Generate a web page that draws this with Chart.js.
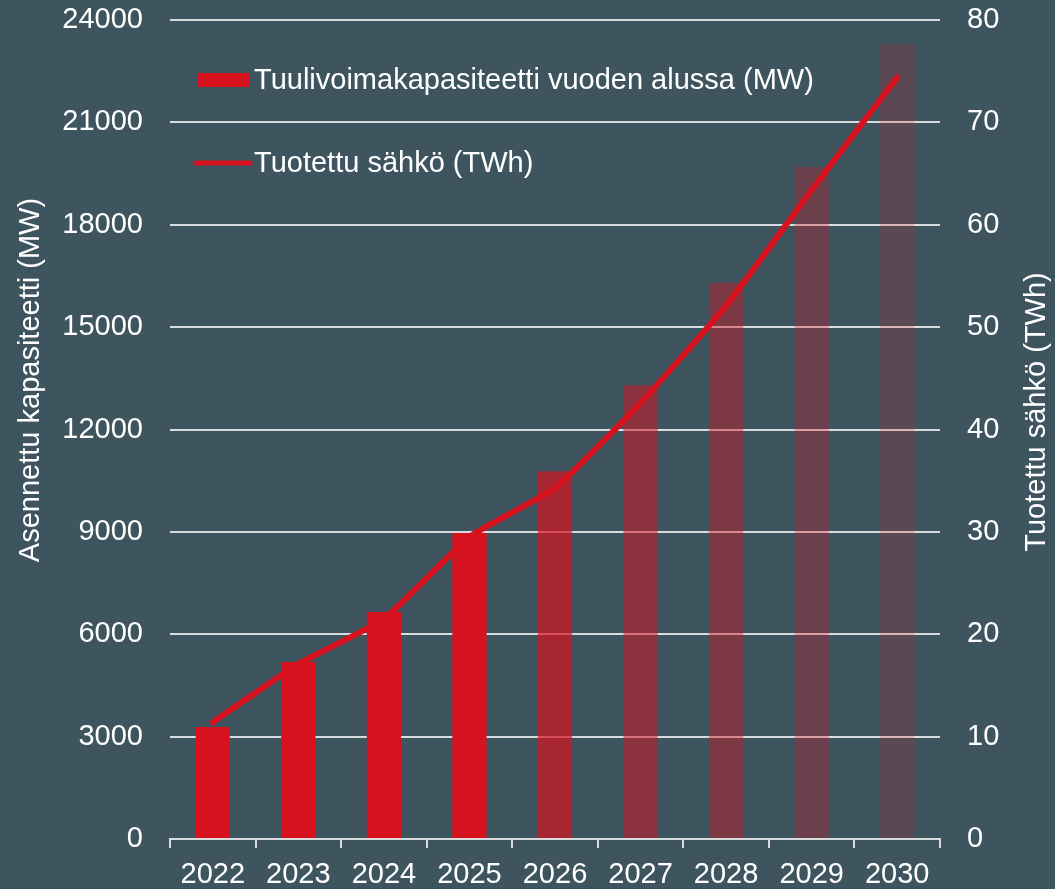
<!DOCTYPE html>
<html>
<head>
<meta charset="utf-8">
<script src="https://cdn.jsdelivr.net/npm/chart.js@4/dist/chart.umd.min.js"></script>
<style>
  html, body { margin: 0; padding: 0; background: #3e5560; }
  #wrap { width: 1055px; height: 889px; position: relative; }
</style>
</head>
<body>
<div id="wrap"><canvas id="chart"></canvas></div>
<script>
// data
const years = ['2022', '2023', '2024', '2025', '2026', '2027', '2028', '2029', '2030'];
const capacityMW = [3280, 5190, 6650, 8970, 10780, 13300, 16300, 19690, 23300];
const productionTWh = [11.4, 17.1, 21.5, 29.5, 34.3, 42.6, 52.1, 63.4, 74.4];
const leftTicks = [0, 3000, 6000, 9000, 12000, 15000, 18000, 21000, 24000];
const rightTicks = [0, 10, 20, 30, 40, 50, 60, 70, 80];

const barLabel = 'Tuulivoimakapasiteetti vuoden alussa (MW)';
const lineLabel = 'Tuotettu sähkö (TWh)';
const leftTitle = 'Asennettu kapasiteetti (MW)';
const rightTitle = 'Tuotettu sähkö (TWh)';

// styling
const red = '#d5121e';
const barAlpha = [1, 1, 1, 1, 0.7, 0.52, 0.42, 0.3, 0.2];
const barColors = barAlpha.map(a => 'rgba(213,18,30,' + a + ')');
const FONT = "'Liberation Sans', Arial, sans-serif";
const textColor = '#ffffff';
const gridColor = '#d9dcdf';

Chart.defaults.font.family = FONT;
Chart.defaults.font.size = 29;
Chart.defaults.color = textColor;

// legend inside the plot (top left) and the two axis titles, both reading upwards
const extraText = {
    id: 'extraText',
    afterDraw(chart) {
        const ctx = chart.ctx;
        const a = chart.chartArea;
        ctx.save();
        ctx.font = '29px ' + FONT;
        ctx.textBaseline = 'middle';
        ctx.textAlign = 'left';
        // bar item
        ctx.fillStyle = red;
        ctx.fillRect(a.left + 27, a.top + 53, 52, 14);
        ctx.fillStyle = textColor;
        ctx.fillText(barLabel, a.left + 84, a.top + 61);
        // line item
        ctx.strokeStyle = red;
        ctx.lineWidth = 5;
        ctx.lineCap = 'round';
        ctx.beginPath();
        ctx.moveTo(a.left + 26, a.top + 143);
        ctx.lineTo(a.left + 80, a.top + 143);
        ctx.stroke();
        ctx.fillText(lineLabel, a.left + 84, a.top + 144);

        // axis titles
        ctx.textAlign = 'center';
        ctx.save();
        ctx.translate(31, a.top + 360);
        ctx.rotate(-Math.PI / 2);
        ctx.fillText(leftTitle, 0, 0);
        ctx.restore();
        ctx.save();
        ctx.translate(1037, a.top + 392);
        ctx.rotate(-Math.PI / 2);
        ctx.fillText(rightTitle, 0, 0);
        ctx.restore();
        ctx.restore();
    }
};

new Chart(document.getElementById('chart'), {
    data: {
        labels: years,
        datasets: [{
            type: 'line',
            label: lineLabel,
            data: productionTWh,
            yAxisID: 'y2',
            borderColor: red,
            borderWidth: 6,
            borderCapStyle: 'round',
            borderJoinStyle: 'round',
            pointRadius: 0,
            tension: 0.15,
            order: 0
        }, {
            type: 'bar',
            label: barLabel,
            data: capacityMW,
            yAxisID: 'y',
            backgroundColor: barColors,
            categoryPercentage: 1,
            barPercentage: 0.4,
            order: 1
        }]
    },
    options: {
        responsive: true,
        maintainAspectRatio: false,
        animation: false,
        layout: { padding: 0 },
        plugins: {
            legend: { display: false },
            tooltip: { enabled: false }
        },
        scales: {
            x: {
                offset: true,
                grid: {
                    offset: true,
                    drawOnChartArea: false,
                    drawTicks: true,
                    tickLength: 9,
                    color: gridColor,
                    lineWidth: 2
                },
                border: { display: true, color: gridColor, width: 2 },
                ticks: { padding: 10, maxRotation: 0, autoSkip: false },
                afterFit(s) { s.height = 50; }
            },
            y: {
                position: 'left',
                min: 0,
                max: 24000,
                afterBuildTicks(s) { s.ticks = leftTicks.map(v => ({ value: v })); },
                ticks: { padding: 27, callback: v => String(v) },
                grid: { color: gridColor, lineWidth: 2, drawTicks: false },
                border: { display: false },
                afterFit(s) { s.width = 170; s.paddingTop = 20; s.paddingBottom = 17; }
            },
            y2: {
                position: 'right',
                min: 0,
                max: 80,
                afterBuildTicks(s) { s.ticks = rightTicks.map(v => ({ value: v })); },
                ticks: { padding: 27 },
                grid: { display: false, drawTicks: false },
                border: { display: false },
                afterFit(s) { s.width = 115; s.paddingTop = 20; s.paddingBottom = 17; }
            }
        }
    },
    plugins: [extraText]
});
</script>
</body>
</html>
